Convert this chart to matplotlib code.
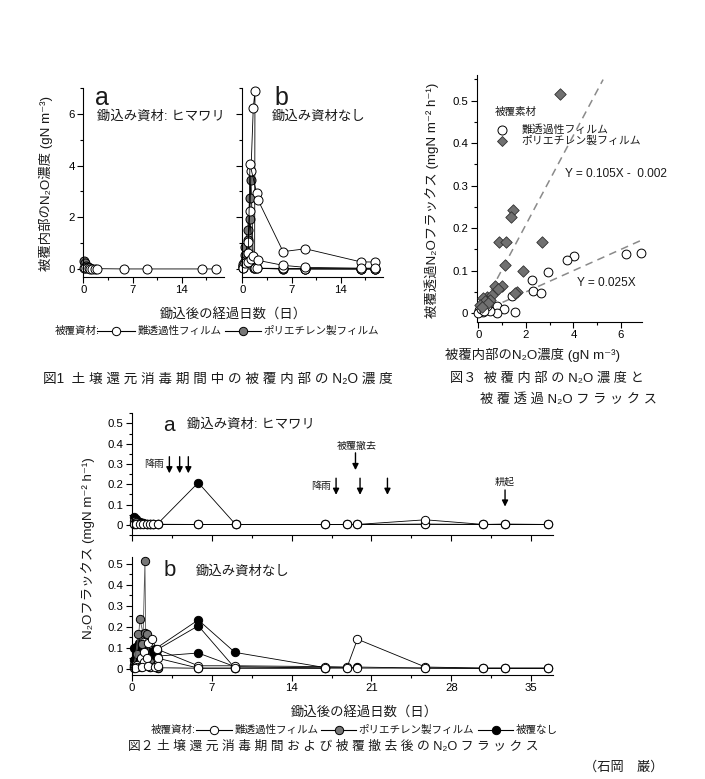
"""Recreate the three-figure N2O panel (figs 1-3) from the soil disinfestation report."""

import matplotlib

matplotlib.use("Agg")
import matplotlib.pyplot as plt
from matplotlib.ticker import MultipleLocator

plt.rcParams["font.family"] = ["Liberation Sans", "Noto Sans CJK JP", "DejaVu Sans"]
plt.rcParams["axes.linewidth"] = 0.8

W, H = 705, 779
GREY = "#777777"

# ---- Fig.1 : N2O concentration under the film (gN m-3) ----
f1a_white_day = [0.1, 0.3, 0.5, 0.8, 1.0, 1.3, 1.6, 2.0, 5.8, 9.0, 16.9, 18.8]
f1a_white_val = [0.05, 0.03, 0.02, 0.02, 0.01, 0.01, 0.01, 0.01, 0.0, 0.0, 0.0, 0.0]
f1a_grey_day = [0.1, 0.25, 0.4, 0.6, 0.8, 1.0]
f1a_grey_val = [0.3, 0.22, 0.12, 0.06, 0.03, 0.02]

f1b_white = [
    ([0.1, 0.4, 0.8, 1.09, 1.23, 1.56, 1.8, 1.75, 2.04, 5.8, 8.98, 16.9, 18.9],
     [0.2, 0.3, 1.06, 2.25, 3.77, 6.23, 6.87, 0.05, 0.03, 0.02, 0.01, 0.0, 0.0]),
    ([0.1, 0.5, 0.85, 1.09, 2.04, 2.27, 5.8, 8.98, 16.9, 18.9],
     [0.1, 0.25, 0.6, 4.06, 2.93, 2.65, 0.67, 0.78, 0.27, 0.27]),
    ([0.1, 0.4, 0.8, 1.2, 1.56, 2.27, 5.8, 8.98, 16.9, 18.9],
     [0.05, 0.22, 0.25, 0.4, 0.52, 0.33, 0.14, 0.06, 0.03, 0.03]),
]
f1b_grey = [
    ([0.1, 0.38, 0.76, 1.09, 1.23, 1.6, 2.1, 5.8, 8.98, 16.9, 18.9],
     [0.1, 0.86, 1.51, 2.74, 3.45, 0.05, 0.02, 0.0, 0.0, 0.0, 0.0]),
    ([0.1, 0.38, 0.85, 1.09, 1.6, 5.8, 8.98, 16.9, 18.9],
     [0.05, 0.53, 1.12, 1.93, 0.03, 0.0, 0.0, 0.0, 0.0]),
]

# ---- Fig.2 : N2O flux (mgN m-2 h-1) ----
f2_days = [0.2, 0.38, 0.73, 1.0, 1.31, 1.6, 1.9, 2.27, 5.83, 9.1, 16.97, 18.87, 19.77, 25.72, 30.8, 32.66, 36.5]
f2a_white1 = [0.003, 0.002, 0.002, 0.002, 0.002, 0.002, 0.002, 0.002, 0.002, 0.002, 0.002, 0.002, 0.002, 0.025, 0.002, 0.004, 0.002]
f2a_white2 = [0.002, 0.002, 0.002, 0.002, 0.002, 0.002, 0.002, 0.002, 0.002, 0.002, 0.002, 0.002, 0.002, 0.004, 0.002, 0.002, 0.002]
f2a_grey = [0.02, 0.015, 0.01, 0.008, 0.005, 0.004, 0.003, 0.003, 0.002, 0.002]
f2a_black = [0.04, 0.03, 0.015, 0.01, 0.005, 0.005, 0.005, 0.005, 0.208, 0.002, 0.002, 0.002, 0.002, 0.002, 0.002, 0.002, 0.002]

f2b_white = [
    ([0.2, 0.5, 0.8, 1.1, 1.46, 1.75, 2.19, 5.83, 9.04, 16.97, 18.87, 19.77, 25.72, 30.8, 32.66, 36.5],
     [0.01, 0.02, 0.05, 0.08, 0.122, 0.141, 0.094, 0.014, 0.014, 0.01, 0.008, 0.141, 0.008, 0.003, 0.003, 0.003]),
    ([0.2, 0.5, 0.8, 1.1, 1.31, 1.6, 2.3, 5.83, 9.04, 16.97, 18.87, 19.77, 25.72, 30.8, 32.66, 36.5],
     [0.005, 0.01, 0.01, 0.03, 0.051, 0.01, 0.05, 0.003, 0.003, 0.003, 0.003, 0.003, 0.003, 0.002, 0.002, 0.002]),
    ([0.3, 0.9, 1.4, 2.0, 2.3],
     [0.003, 0.01, 0.012, 0.01, 0.012]),
]
f2b_grey = [
    ([0.2, 0.45, 0.73, 1.0, 1.16, 1.25, 1.6, 2.3, 5.83, 9.04],
     [0.02, 0.07, 0.237, 0.165, 0.515, 0.02, 0.01, 0.005, 0.002, 0.002]),
    ([0.2, 0.58, 0.87, 1.16, 1.31, 1.6, 2.3, 5.83, 9.04],
     [0.01, 0.165, 0.12, 0.17, 0.165, 0.03, 0.005, 0.002, 0.002]),
]
f2b_black = [
    ([0.2, 0.4, 0.6, 1.0, 1.5, 2.04, 5.83, 9.04, 16.97, 18.87, 19.77, 25.72, 30.8, 32.66, 36.5],
     [0.1, 0.106, 0.122, 0.09, 0.08, 0.094, 0.233, 0.078, 0.005, 0.005, 0.008, 0.003, 0.002, 0.002, 0.002]),
    ([0.2, 0.4, 0.8, 1.2, 1.7, 2.2, 5.83, 9.04, 16.97],
     [0.04, 0.051, 0.07, 0.05, 0.06, 0.09, 0.205, 0.003, 0.003]),
    ([0.2, 0.5, 1.0, 1.5, 2.2, 5.83, 9.04, 16.97],
     [0.02, 0.03, 0.06, 0.04, 0.06, 0.075, 0.01, 0.003]),
]

rain_days_1 = [3.3, 4.2, 4.96]
rain_days_2 = [17.9, 20.0, 22.4]
removal_day = 19.6
tillage_day = 32.7

# ---- Fig.3 : flux vs concentration ----
f3_white_x = [6.2, 6.83, 4.03, 3.74, 2.92, 2.24, 2.28, 2.62, 1.43, 0.8, 1.09, 1.54, 0.77,
              0.32, 0.04, 0.18, 0.49, 0.0, 0.35, 0.1, 0.25]
f3_white_y = [0.14, 0.141, 0.135, 0.124, 0.096, 0.077, 0.052, 0.047, 0.041, 0.017, 0.009, 0.003, 0.0,
              0.012, 0.008, 0.003, 0.004, 0.0, 0.017, 0.01, 0.006]
f3_pe_x = [3.43, 1.47, 1.39, 0.88, 1.16, 2.66, 1.12, 1.89, 0.7, 0.98, 0.84, 1.61, 1.54,
           0.35, 0.18, 0.56, 0.49, 0.3, 0.07, 0.42, 0.14]
f3_pe_y = [0.515, 0.243, 0.227, 0.168, 0.168, 0.168, 0.114, 0.1, 0.063, 0.065, 0.056, 0.051, 0.047,
           0.039, 0.035, 0.043, 0.031, 0.028, 0.02, 0.024, 0.015]
fit_pe = (0.105, -0.002, 5.25)
fit_white = (0.025, 0.0, 6.8)


def sp(s):
    return " ".join(s)


fig = plt.figure(figsize=(W / 100, H / 100), dpi=100)


def pax(x0, y0, x1, y1):
    return fig.add_axes([x0 / W, 1 - y1 / H, (x1 - x0) / W, (y1 - y0) / H])


def style(ax, xmaj, xmin, ymaj, ymin):
    for s in ["top", "right"]:
        ax.spines[s].set_visible(False)
    ax.patch.set_alpha(0)
    ax.xaxis.set_major_locator(MultipleLocator(xmaj))
    ax.xaxis.set_minor_locator(MultipleLocator(xmin))
    ax.yaxis.set_major_locator(MultipleLocator(ymaj))
    ax.yaxis.set_minor_locator(MultipleLocator(ymin))
    ax.tick_params(which="major", direction="out", length=4, width=0.8, labelsize=8.2, pad=2)
    ax.tick_params(which="minor", direction="out", length=2.5, width=0.8)


def series(ax, x, y, fc, ms=6.5, lc="k"):
    ax.plot(x, y, "-", color=lc, lw=0.6, marker="o", mfc=fc, mec="k", ms=ms, mew=0.7, clip_on=False)


# Fig.1 axes
ax1a = pax(83.3, 88, 224, 276.7)
ax1b = pax(242.3, 88, 383, 276.7)
for ax in (ax1a, ax1b):
    style(ax, 7, 3.5, 2, 1)
    ax.set_xlim(0, 20)
    ax.set_ylim(-0.3, 7.0)
ax1b.tick_params(labelleft=False)

series(ax1a, f1a_grey_day, f1a_grey_val, GREY)
series(ax1a, f1a_white_day, f1a_white_val, "white")
for d, v in f1b_grey:
    series(ax1b, d, v, GREY)
for d, v in f1b_white:
    series(ax1b, d, v, "white")

# Fig.2 axes
ax2a = pax(131.7, 413.3, 553, 535)
ax2b = pax(131.7, 556.7, 553, 675)
for ax in (ax2a, ax2b):
    style(ax, 7, 3.5, 0.1, 0.05)
    ax.set_xlim(0, 36.9)
ax2a.set_ylim(-0.05, 0.55)
ax2b.set_ylim(-0.03, 0.535)
ax2a.tick_params(labelbottom=False)
for ax in (ax2a, ax2b):
    ax.yaxis.set_major_formatter(plt.FuncFormatter(lambda v, p: "0" if abs(v) < 1e-9 else f"{v:.1f}"))

ms2 = 6
series(ax2a, f2_days, f2a_black, "black", ms2)
series(ax2a, f2_days[:len(f2a_grey)], f2a_grey, GREY, ms2)
series(ax2a, f2_days, f2a_white2, "white", ms2)
series(ax2a, f2_days, f2a_white1, "white", ms2)
for d, v in f2b_black:
    series(ax2b, d, v, "black", ms2)
for d, v in f2b_grey:
    series(ax2b, d, v, GREY, ms2, lc="#555555")
for d, v in f2b_white:
    series(ax2b, d, v, "white", ms2)

arrow_kw = dict(arrowstyle="-|>", color="k", lw=1.0, mutation_scale=9, shrinkA=0, shrinkB=0)


def arrow(ax, d, y0, y1):
    ax.annotate("", xy=(d, y1), xytext=(d, y0), arrowprops=arrow_kw, annotation_clip=False)


for d in rain_days_1:
    arrow(ax2a, d, 0.336, 0.254)
arrow(ax2a, removal_day, 0.355, 0.27)
for d in rain_days_2:
    arrow(ax2a, d, 0.23, 0.148)
arrow(ax2a, tillage_day, 0.172, 0.09)

# Fig.3 axes
ax3 = pax(476.7, 75, 642.3, 321.7)
style(ax3, 2, 1, 0.1, 0.05)
ax3.set_xlim(-0.07, 6.9)
ax3.set_ylim(-0.02, 0.56)
ax3.yaxis.set_major_formatter(plt.FuncFormatter(lambda v, p: "0" if abs(v) < 1e-9 else f"{v:.1f}"))
for slope, icpt, xend in (fit_pe, fit_white):
    ax3.plot([0.02, xend], [slope * 0.02 + icpt, slope * xend + icpt], color="#8a8a8a",
             lw=1.1, dashes=(5, 3.5))
ax3.scatter(f3_white_x, f3_white_y, s=40, facecolors="white", edgecolors="k", linewidths=0.7,
            zorder=3, clip_on=False)
ax3.scatter(f3_pe_x, f3_pe_y, s=34, marker="D", facecolors="#707070", edgecolors="#303030",
            linewidths=0.6, zorder=4, clip_on=False)

# overlay for labels in pixel coordinates
ov = fig.add_axes([0, 0, 1, 1])
ov.set_xlim(0, W)
ov.set_ylim(H, 0)
ov.axis("off")
ov.patch.set_alpha(0)

TXT = "#1a1a1a"


def t(x, y, s, size, ha="left", va="center", **kw):
    ov.text(x, y, s, fontsize=size, ha=ha, va=va, color=TXT, **kw)


# fig1 texts
t(95, 98, "a", 18)
t(96.7, 116.7, "鋤込み資材: ヒマワリ", 9.6)
t(274, 98, "b", 18)
t(271.7, 116.7, "鋤込み資材なし", 9.6)
t(46, 183, "被覆内部のN\u2082O濃度 (gN m\u207b\u00b3)", 9.6, ha="center", rotation=90)
t(233, 314, "鋤込後の経過日数（日）", 9.6, ha="center")


def legend_row(x_label, y, items, size):
    t(x_label, y, "被覆資材:", size)
    for x0, x1, fc, label in items:
        ov.plot([x0, x1], [y, y], color="k", lw=0.8)
        ov.plot([(x0 + x1) / 2], [y], marker="o", ms=6, mfc=fc, mec="k", mew=0.7)
        t(x1 + 2.5, y, label, size)


legend_row(55, 331, [(97, 135, "white", "難透過性フィルム"),
                     (225, 261, GREY, "ポリエチレン製フィルム")], 7.6)
t(43, 379, "図1  " + sp("土壌還元消毒期間中の被覆内部の") + " N\u2082O " + sp("濃度"), 9.8)

# fig2 texts
t(163, 425, "a", 15)
t(187, 425, "鋤込み資材: ヒマワリ", 9.6)
t(164, 571, "b", 16)
t(196, 572, "鋤込み資材なし", 9.6)
t(164, 464, "降雨", 7.2, ha="right")
t(356.7, 446, "被覆撤去", 7.2, ha="center")
t(331, 486, "降雨", 7.2, ha="right")
t(505, 482, "耕起", 7.2, ha="center")
t(88, 548, "N\u2082Oフラックス (mgN m\u207b\u00b2 h\u207b\u00b9)", 9.6, ha="center", rotation=90)
t(364, 712, "鋤込後の経過日数（日）", 9.6, ha="center")
legend_row(151, 730, [(196, 232, "white", "難透過性フィルム"),
                      (321, 356, GREY, "ポリエチレン製フィルム"),
                      (478, 513, "black", "被覆なし")], 7.6)
t(128, 747, "図２ " + sp("土壌還元消毒期間および被覆撤去後の") + " N\u2082O " + sp("フラックス"), 9.2)
t(584, 767, "（石岡　巌）", 9.5)

# fig3 texts
t(432, 200, "被覆透過N\u2082Oフラックス (mgN m\u207b\u00b2 h\u207b\u00b9)", 9.6, ha="center", rotation=90)
t(533, 355, "被覆内部のN\u2082O濃度 (gN m\u207b\u00b3)", 9.6, ha="center")
t(495, 111.7, "被覆素材", 7.6)
ov.plot([501.7], [130], marker="o", ms=6.5, mfc="white", mec="k", mew=0.7)
ov.plot([501.7], [141], marker="D", ms=5.5, mfc="#707070", mec="#303030", mew=0.6)
t(521.7, 130, "難透過性フィルム", 7.8)
t(521.7, 141, "ポリエチレン製フィルム", 7.8)
t(565, 174, "Y = 0.105X -  0.002", 8.6)
t(576.7, 283, "Y = 0.025X", 8.6)
t(450, 379, "図３  " + sp("被覆内部の") + " N\u2082O " + sp("濃度と"), 9.5)
t(480, 399, sp("被覆透過") + " N\u2082O " + sp("フラックス"), 9.5)

fig.savefig("out.png", dpi=100)
